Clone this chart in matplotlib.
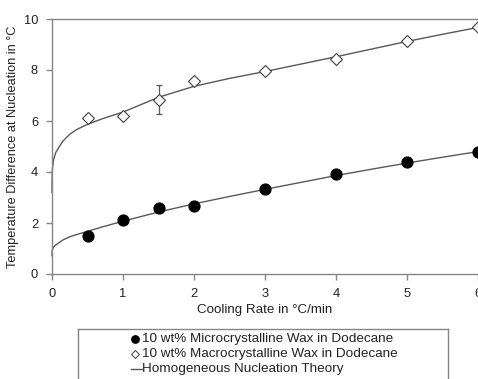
import numpy as np
import matplotlib.pyplot as plt
from matplotlib.lines import Line2D

plt.rcParams['font.family'] = ['Liberation Sans', 'DejaVu Sans']

# measured nucleation undercooling vs cooling rate
rate = [0.5, 1, 1.5, 2, 3, 4, 5, 6]
micro = [1.49, 2.12, 2.60, 2.67, 3.33, 3.92, 4.38, 4.80]
macro = [6.13, 6.18, 6.84, 7.58, 7.97, 8.44, 9.15, 9.67]
macro_err = [0, 0, 0.57, 0, 0, 0, 0, 0]

# homogeneous nucleation theory curves
theory_x = [0.0002, 0.001, 0.005, 0.02, 0.05, 0.1, 0.15, 0.25, 0.35, 0.5, 0.7,
            1, 1.5, 2, 2.5, 3, 3.5, 4, 4.5, 5, 5.5, 6]
theory_micro = [0.72, 0.84, 0.95, 1.05, 1.13, 1.23, 1.33, 1.46, 1.55, 1.67, 1.84,
                2.07, 2.43, 2.75, 3.04, 3.32, 3.59, 3.86, 4.11, 4.35, 4.58, 4.80]
theory_macro = [3.2, 3.65, 4.1, 4.45, 4.75, 4.98, 5.2, 5.48, 5.67, 5.87, 6.08,
                6.35, 6.93, 7.36, 7.67, 7.94, 8.23, 8.52, 8.82, 9.12, 9.40, 9.67]

legend_labels = ['10 wt% Microcrystalline Wax in Dodecane',
                 '10 wt% Macrocrystalline Wax in Dodecane',
                 'Homogeneous Nucleation Theory']

W, H = 478, 379
fig = plt.figure(figsize=(W / 100, H / 100), dpi=100)
ax = fig.add_axes([52 / W, (H - 274) / H, (W - 52) / W, (274 - 19) / H])

grey = '#868686'
line_c = '#595959'
txt_c = '#222222'

ax.plot(theory_x, theory_micro, color=line_c, lw=1, clip_on=False)
ax.plot(theory_x, theory_macro, color=line_c, lw=1, clip_on=False)
ax.errorbar(rate, macro, yerr=macro_err, fmt='none', ecolor=line_c,
            elinewidth=0.9, capsize=2, capthick=0.9, clip_on=False)
ax.plot(rate, micro, 'o', ms=7.8, color='black', clip_on=False, zorder=5)
ax.plot(rate, macro, 'D', ms=6.6, mfc='white', mec='#404040', mew=0.8,
        clip_on=False, zorder=5)

ax.set_xlim(0, 6)
ax.set_ylim(0, 10)
ax.set_xticks(range(0, 7))
ax.set_yticks(range(0, 11, 2))
for s in ['left', 'bottom', 'top']:
    ax.spines[s].set_color(grey)
    ax.spines[s].set_linewidth(1)
ax.spines['right'].set_visible(False)
ax.tick_params(direction='out', length=4, width=1, color=grey,
               labelsize=9.3, labelcolor=txt_c)
ax.tick_params(axis='x', pad=6)
ax.tick_params(axis='y', pad=6)
ax.set_xlabel('Cooling Rate in °C/min', fontsize=9.6, color=txt_c, labelpad=3)
ax.set_ylabel('Temperature Difference at Nucleation in °C', fontsize=9.2,
              color=txt_c, labelpad=3)

# legend box at the bottom
lg = fig.add_axes([78 / W, (H - 400) / H, (448 - 78) / W, (400 - 329) / H])
lg.set_xlim(78, 448)
lg.set_ylim(400, 329)
lg.set_xticks([])
lg.set_yticks([])
for s in lg.spines.values():
    s.set_color(grey)
    s.set_linewidth(1)
ys = [339.5, 354.5, 369]
lg.plot([135], [ys[0]], 'o', ms=5.3, color='black')
lg.plot([135], [ys[1]], 'D', ms=4.3, mfc='white', mec='#404040', mew=0.7)
lg.add_line(Line2D([131, 141.5], [ys[2], ys[2]], color=line_c, lw=1))
for y, t in zip(ys, legend_labels):
    lg.text(142.5, y, t, fontsize=9.7, color=txt_c, va='center', ha='left')

fig.savefig('out.png', dpi=100)
